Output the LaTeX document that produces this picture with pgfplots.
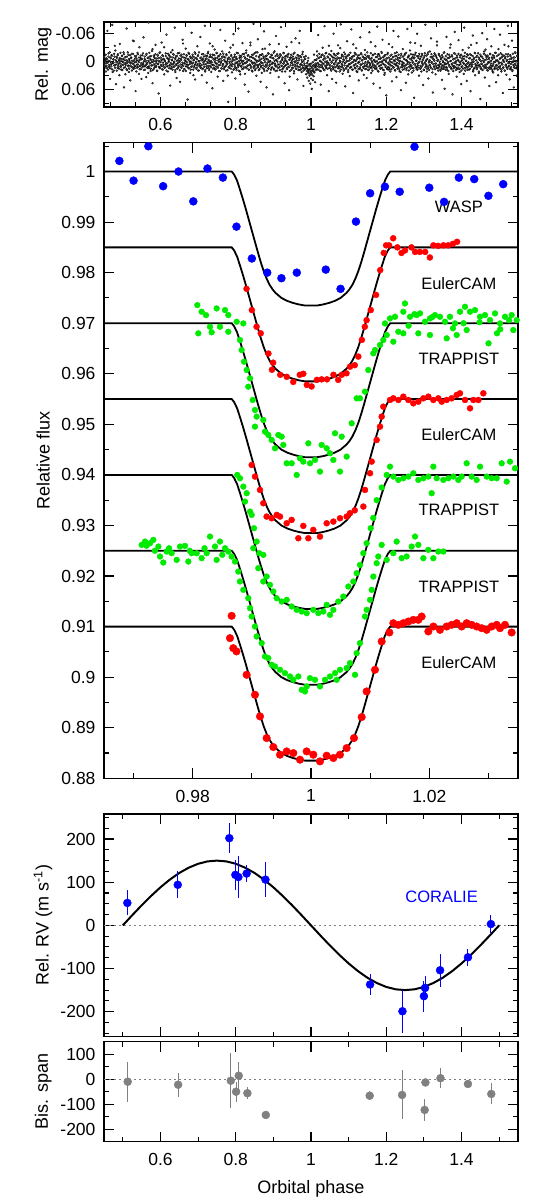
\documentclass[border=0pt]{standalone}
\usepackage{fontspec}
\setmainfont{Liberation Sans}
\usepackage{pgfplots}
\usepackage{pgfplotstable}
\pgfplotsset{compat=1.18}

\definecolor{wblue}{RGB}{0,0,255}
\definecolor{ered}{RGB}{255,0,0}
\definecolor{tgreen}{RGB}{0,235,0}
\definecolor{dgray}{RGB}{128,128,128}
\definecolor{lgray}{RGB}{140,140,140}

% model transit shape: phase, depth
\pgfplotstableread{
x d
0.9650 0
0.9866 0
0.9870 0.0006
0.9875 0.0018
0.9880 0.0036
0.9885 0.0055
0.9890 0.0075
0.9895 0.0096
0.9900 0.0117
0.9905 0.0138
0.9910 0.0159
0.9915 0.0179
0.9920 0.0197
0.9925 0.0212
0.9930 0.0224
0.9935 0.0233
0.9940 0.0240
0.9950 0.0250
0.9960 0.0256
0.9970 0.0260
0.9980 0.0263
0.9990 0.0265
1.0000 0.0265
1.0010 0.0265
1.0020 0.0263
1.0030 0.0260
1.0040 0.0256
1.0050 0.0250
1.0060 0.0240
1.0065 0.0233
1.0070 0.0224
1.0075 0.0212
1.0080 0.0197
1.0085 0.0179
1.0090 0.0159
1.0095 0.0138
1.0100 0.0117
1.0105 0.0096
1.0110 0.0075
1.0115 0.0055
1.0120 0.0036
1.0125 0.0018
1.0130 0.0006
1.0134 0
1.0350 0
}\shape

% WASP photometry, phase and mag in units of 1/1000
\pgfplotstableread{
p m
450 4
451 -12
452 9
454 -3
455 21
456 -7
458 14
459 -66
460 2
462 -18
463 11
464 -1
466 37
467 -9
468 6
470 -14
471 16
472 -79
474 3
475 -5
476 19
478 -11
479 8
480 -24
482 48
483 1
484 -8
486 13
487 -16
488 5
490 -2
491 29
492 -38
494 10
495 -6
496 17
498 -13
499 0
500 7
502 -20
503 55
504 -4
506 12
507 -10
508 3
510 -71
511 18
512 -1
514 8
515 -15
516 22
518 -6
519 2
520 40
522 -9
523 11
524 -17
526 4
527 -45
528 15
530 -3
531 9
532 -12
534 63
535 1
536 -7
538 13
539 -19
540 6
542 -2
543 26
544 -31
546 10
547 -8
548 16
550 -5
551 7
552 -14
554 3
555 -52
556 18
558 -6
559 10
560 -1
562 33
563 -17
564 5
566 12
567 -9
568 -84
570 14
571 2
572 -11
574 20
575 -4
576 8
578 -23
579 46
580 0
582 -13
583 15
584 6
586 -7
587 -36
588 11
590 -2
591 19
592 -15
594 4
595 68
596 -8
598 13
599 -20
600 1
602 9
603 -41
604 -5
606 17
607 -12
608 7
610 27
611 -3
612 12
614 -18
615 3
616 -58
618 10
619 -7
620 21
622 -1
623 -14
624 8
626 51
627 -10
628 15
630 -4
631 6
632 -25
634 -16
635 11
636 2
638 -73
639 18
640 -8
642 5
643 35
644 -12
646 14
647 -3
648 9
650 -19
651 0
652 43
654 -6
655 12
656 -15
658 7
659 -47
660 20
662 -9
663 3
664 16
666 -2
667 -28
668 10
670 -13
671 6
672 81
674 -5
675 14
676 -17
678 1
679 24
680 -8
682 11
683 -62
684 4
686 -11
687 17
688 -3
690 9
691 -20
692 38
694 2
695 -7
696 13
698 -33
699 5
700 -14
702 19
703 -1
704 8
706 -53
707 12
708 -9
710 29
711 -4
712 15
714 -16
715 0
716 6
718 -77
719 18
720 -6
722 10
723 45
724 -12
726 3
727 -21
728 14
730 -2
731 -39
732 9
734 -10
735 22
736 1
738 57
739 -15
740 7
742 -5
743 13
744 -26
746 -8
747 16
748 4
750 -18
751 11
752 32
754 -3
755 8
756 -13
758 20
759 -68
760 2
762 -7
763 15
764 -22
766 6
767 41
768 -11
770 12
771 -1
772 -45
774 9
775 -16
776 3
778 18
779 -6
780 86
782 -9
783 13
784 0
786 -30
787 7
788 -14
790 23
791 5
792 -3
794 -59
795 16
796 -10
798 10
799 36
800 -5
802 14
803 -19
804 1
806 8
807 -71
808 19
810 -8
811 4
812 27
814 -12
815 11
816 -2
818 -40
819 6
820 15
822 -17
823 3
824 49
826 -7
827 12
828 -24
830 0
831 9
832 -13
834 64
835 17
836 -4
838 7
839 -35
840 13
842 -10
843 2
844 21
846 -15
847 -81
848 10
850 -6
851 18
852 5
854 -20
855 30
856 -2
858 12
859 -48
860 7
862 -11
863 16
864 -4
866 43
867 9
868 -15
870 3
871 -27
872 14
874 -8
875 -65
876 20
878 1
879 -12
880 11
882 55
883 -5
884 8
886 -18
887 15
888 -1
890 -37
891 6
892 24
894 -9
895 13
896 -14
898 2
899 70
900 -7
902 17
903 -22
904 4
906 10
907 -55
908 -3
910 19
911 -13
912 6
914 33
915 -8
916 12
918 -16
919 0
920 -74
922 9
923 21
924 -6
926 14
927 -19
928 3
930 46
931 -11
932 8
934 -2
935 -32
936 16
938 5
939 -15
940 11
942 61
943 -4
944 20
946 -9
947 2
948 -42
950 13
951 -6
952 7
954 -17
955 25
956 0
958 10
959 -50
960 15
962 -8
963 4
964 38
966 -13
967 12
968 -3
970 -66
971 18
972 6
974 -10
975 22
976 1
978 -21
979 14
980 52
982 8
983 -5
984 16
986 -12
987 27
988 11
989 20
990 34
991 9
992 24
993 -8
994 41
995 17
996 30
997 5
998 47
999 22
1000 36
1001 14
1002 58
1003 28
1004 19
1005 39
1006 8
1007 31
1008 -15
1009 23
1010 12
1011 44
1012 6
1013 18
1014 -4
1015 15
1016 -22
1018 3
1019 -57
1020 10
1022 -9
1023 19
1024 -1
1026 49
1027 7
1028 -14
1030 12
1031 -30
1032 4
1034 17
1035 -7
1036 -76
1038 9
1039 -18
1040 14
1042 2
1043 29
1044 -11
1046 5
1047 63
1048 -16
1050 8
1051 -3
1052 15
1054 -23
1055 1
1056 37
1058 -9
1059 12
1060 -60
1062 6
1063 -14
1064 19
1066 -2
1067 45
1068 10
1070 -17
1071 4
1072 -35
1074 14
1075 -7
1076 21
1078 0
1079 -80
1080 11
1082 -12
1083 7
1084 26
1086 -5
1087 16
1088 -20
1090 3
1091 53
1092 -10
1094 13
1095 -1
1096 -44
1098 9
1099 18
1100 -15
1102 5
1103 31
1104 -8
1106 12
1107 -69
1108 2
1110 -11
1111 17
1112 67
1114 -4
1115 8
1116 -19
1118 14
1119 -2
1120 -29
1122 10
1123 22
1124 -13
1126 1
1127 40
1128 -7
1130 15
1131 -52
1132 6
1134 -16
1135 19
1136 -3
1138 84
1139 11
1140 -9
1142 4
1143 -25
1144 16
1146 -6
1147 9
1148 35
1150 -12
1151 2
1152 18
1154 -8
1155 -63
1156 12
1158 5
1159 -18
1160 24
1162 -1
1163 10
1164 -14
1166 47
1167 7
1168 -4
1170 15
1171 -33
1172 0
1174 13
1175 -10
1176 -75
1178 20
1179 3
1180 -16
1182 9
1183 56
1184 -6
1186 14
1187 -21
1188 1
1190 -47
1191 17
1192 -9
1194 6
1195 28
1196 -13
1198 11
1199 -2
1200 72
1202 -7
1203 16
1204 -19
1206 4
1207 -38
1208 13
1210 -5
1211 21
1212 8
1214 -15
1215 42
1216 2
1218 -10
1219 -66
1220 12
1222 -1
1223 18
1224 -12
1226 5
1227 33
1228 -20
1230 9
1231 -4
1232 -54
1234 15
1235 0
1236 -8
1238 22
1239 61
1240 -14
1242 7
1243 11
1244 -27
1246 3
1247 -6
1248 16
1250 -17
1251 8
1252 45
1254 -3
1255 13
1256 -70
1258 1
1259 -11
1260 19
1262 6
1263 -24
1264 -41
1266 10
1267 -7
1268 23
1270 2
1271 -15
1272 14
1274 77
1275 -9
1276 5
1278 -19
1279 12
1280 -2
1282 -60
1283 17
1284 8
1286 -12
1287 30
1288 0
1290 -6
1291 15
1292 -34
1294 11
1295 -17
1296 4
1298 50
1299 -8
1300 18
1302 -13
1303 3
1304 -79
1306 9
1307 -4
1308 21
1310 -16
1311 14
1312 36
1314 -1
1315 7
1316 -22
1318 12
1319 -50
1320 2
1322 -10
1323 16
1324 66
1326 -5
1327 10
1328 -18
1330 4
1331 27
1332 -12
1334 13
1335 -43
1336 -2
1338 19
1339 8
1340 -14
1342 -84
1343 5
1344 17
1346 -7
1347 11
1348 39
1350 -10
1351 1
1352 15
1354 -20
1355 58
1356 6
1358 -4
1359 12
1360 -53
1362 18
1363 -8
1364 3
1366 26
1367 -15
1368 10
1370 -1
1371 -37
1372 14
1374 5
1375 -11
1376 70
1378 20
1379 -6
1380 9
1382 -64
1383 -17
1384 2
1386 13
1387 32
1388 -9
1390 16
1391 -3
1392 -46
1394 7
1395 22
1396 -13
1398 0
1399 48
1400 11
1402 -7
1403 -25
1404 15
1406 4
1407 -73
1408 -12
1410 19
1411 8
1412 -2
1414 41
1415 -16
1416 12
1418 3
1419 -30
1420 17
1422 -8
1423 6
1424 63
1426 -14
1427 10
1428 1
1430 -56
1431 21
1432 -5
1434 14
1435 -19
1436 29
1438 7
1439 -10
1440 -40
1442 13
1443 2
1444 -18
1446 24
1447 9
1448 -4
1450 80
1451 15
1452 -11
1454 5
1455 -61
1456 18
1458 -2
1459 10
1460 -22
1462 34
1463 7
1464 -14
1466 13
1467 -5
1468 -48
1470 19
1471 1
1472 -9
1474 52
1475 12
1476 -17
1478 4
1479 -33
1480 16
1482 -6
1483 9
1484 23
1486 -12
1487 -70
1488 14
1490 0
1491 -19
1492 44
1494 8
1495 -3
1496 17
1498 -27
1499 11
1500 2
1502 -58
1503 15
1504 -8
1506 21
1507 5
1508 -15
1510 67
1511 12
1512 -1
1514 -36
1515 19
1516 -10
1518 6
1519 28
1520 -4
1522 13
1523 -77
1524 -16
1526 9
1527 3
1528 38
1530 -12
1531 16
1532 -6
1534 -45
1535 20
1536 1
1538 -9
1539 55
1540 11
1542 -20
1543 7
1544 -2
1546 30
1547 14
1548 -13
1550 4
}\wasplc

% WASP photometry, second camera
\pgfplotstableread{
p m
450.6 -8
451.3 5
452.9 -1
453.4 12
454.8 -15
456.1 3
456.7 9
458.2 -6
459.5 1
460.3 17
461.8 -11
462.4 -2
463.9 7
465.2 -20
465.8 14
467.5 0
468.1 -7
469.6 10
470.9 4
471.5 -13
473.0 22
474.4 -5
475.1 2
476.7 -17
477.3 8
478.8 -34
479.6 13
481.2 -3
481.9 6
483.5 -10
484.0 19
485.7 1
486.3 -14
487.9 9
489.1 -4
489.8 15
491.4 -8
492.0 3
493.6 -19
494.5 11
495.2 -1
496.8 6
497.6 -12
498.9 18
500.3 -6
500.9 0
502.5 13
503.1 -16
504.7 4
505.4 -9
506.9 27
507.7 7
509.0 -3
510.2 16
511.0 -11
512.6 2
513.3 -20
514.9 10
515.5 -5
517.1 15
517.8 -1
519.4 -14
520.1 8
521.7 3
522.5 -8
524.0 19
524.8 -2
526.3 12
527.1 -17
528.6 5
529.2 -44
530.8 0
531.5 14
533.1 -7
534.0 9
535.4 -12
536.2 21
537.7 -3
538.3 6
539.9 -16
540.6 11
542.2 1
543.0 -9
544.5 16
545.1 -4
546.7 8
547.5 -13
549.0 3
549.6 37
551.2 -6
552.0 12
553.5 -18
554.3 5
555.8 -1
556.6 9
558.1 -11
558.9 17
560.4 -3
561.2 7
562.7 -15
563.5 2
565.0 13
565.8 -8
567.3 24
568.1 -2
569.7 10
570.4 -19
572.0 4
572.6 -6
574.2 15
575.0 -12
576.5 1
577.3 8
578.8 -27
579.6 18
581.1 -4
581.9 6
583.4 -10
584.2 12
585.8 -1
586.5 -16
588.1 9
588.8 3
590.4 -7
591.2 20
592.7 -13
593.5 5
595.0 -2
595.8 11
597.3 -19
598.1 14
599.6 0
600.4 -9
602.0 7
602.7 -4
604.3 16
605.1 -14
606.6 2
607.4 10
608.9 -6
609.7 -31
611.2 13
612.0 -1
613.5 6
614.3 -12
615.9 19
616.6 4
618.2 -8
619.0 9
620.5 -17
621.3 1
622.8 14
623.6 -5
625.1 -11
625.9 8
627.5 3
628.2 -20
629.8 12
630.6 -3
632.1 17
632.9 -9
634.4 5
635.2 -15
636.7 0
637.5 10
639.0 -6
639.8 22
641.3 -12
642.1 7
643.7 -2
644.4 15
646.0 -18
646.8 3
648.3 11
649.1 -7
650.6 -1
651.4 18
652.9 -13
653.7 6
655.2 -4
656.0 13
657.6 -10
658.3 2
659.9 -39
660.7 9
662.2 -16
663.0 16
664.5 -3
665.3 4
666.8 -8
667.6 20
669.1 -14
669.9 1
671.5 11
672.2 -6
673.8 7
674.6 -19
676.1 14
676.9 -2
678.4 5
679.2 -11
680.7 17
681.5 0
683.1 -7
683.8 10
685.4 -15
686.2 3
687.7 29
688.5 -4
690.0 12
690.8 -9
692.3 6
693.1 -17
694.6 1
695.4 15
697.0 -5
697.7 8
699.3 -12
700.1 19
701.6 -1
702.4 -20
703.9 10
704.7 4
706.2 -8
707.0 13
708.5 -3
709.3 7
710.9 -16
711.6 16
713.2 -6
714.0 2
715.5 -11
716.3 11
717.8 -2
718.6 21
720.1 -13
720.9 5
722.5 -7
723.2 14
724.8 0
725.6 -18
727.1 9
727.9 -4
729.4 18
730.2 -10
731.7 3
732.5 -15
734.0 12
734.8 -1
736.4 6
737.1 -9
738.7 -33
739.5 15
741.0 -5
741.8 8
743.3 -14
744.1 1
745.6 17
746.4 -3
747.9 10
748.7 -19
750.3 4
751.0 -8
752.6 13
753.4 -12
754.9 0
755.7 20
757.2 -6
758.0 7
759.5 -16
760.3 2
761.8 14
762.6 -2
764.1 -11
764.9 9
766.5 5
767.2 -17
768.8 16
769.6 -4
771.1 11
771.9 -9
773.4 1
774.2 19
775.7 -14
776.5 6
778.0 -1
778.8 30
780.4 -7
781.1 12
782.7 -20
783.5 3
785.0 8
785.8 -5
787.3 15
788.1 -12
789.6 0
790.4 10
791.9 -8
792.7 -36
794.3 17
795.0 -3
796.6 6
797.4 -15
798.9 13
799.7 2
801.2 -10
802.0 18
803.5 -6
804.3 4
805.8 -18
806.6 11
808.2 -1
808.9 7
810.5 -13
811.3 21
812.8 -4
813.6 9
815.1 -9
815.9 1
817.4 16
818.2 -16
819.7 5
820.5 -2
822.1 12
822.8 -11
824.4 26
825.2 -7
826.7 3
827.5 -19
829.0 14
829.8 0
831.3 -5
832.1 8
833.6 -14
834.4 17
836.0 -3
836.7 6
838.3 -10
839.1 -41
840.6 10
841.4 -1
842.9 19
843.7 -15
845.2 4
846.0 -8
847.5 13
848.3 2
849.9 -18
850.6 9
852.2 -4
853.0 15
854.5 -12
855.3 1
856.8 7
857.6 -20
859.1 11
859.9 -2
861.4 18
862.2 -9
863.8 5
864.5 -14
866.1 0
866.9 12
868.4 -6
869.2 24
870.7 -16
871.5 3
873.0 8
873.8 -11
875.3 16
876.1 -3
877.7 -28
878.4 10
880.0 -7
880.8 6
882.3 -13
883.1 19
884.6 2
885.4 -5
886.9 14
887.7 -17
889.2 1
890.0 9
891.6 -10
892.3 -1
893.9 17
894.7 -15
896.2 5
897.0 12
898.5 -8
899.3 3
900.8 -19
901.6 15
903.1 -2
903.9 7
905.5 -12
906.2 20
907.8 -4
908.6 10
910.1 -16
910.9 0
912.4 13
913.2 -7
914.7 -38
915.5 6
917.0 -11
917.8 18
919.4 2
920.1 -14
921.7 9
922.5 -3
924.0 16
924.8 -9
926.3 4
927.1 -18
928.6 11
929.4 -1
931.0 21
931.7 -6
933.3 7
934.1 -13
935.6 14
936.4 1
937.9 -10
938.7 5
940.2 -17
941.0 12
942.5 -4
943.3 32
944.9 -8
945.6 8
947.2 -15
948.0 17
949.5 -2
950.3 3
951.8 -11
952.6 13
954.1 -6
954.9 20
956.4 -19
957.2 6
958.8 0
959.5 -9
961.1 15
961.9 -3
963.4 9
964.2 -14
965.7 2
966.5 18
968.0 -7
968.8 -40
970.3 11
971.1 -12
972.7 5
973.4 16
975.0 -4
975.8 7
977.3 -16
978.1 12
979.6 -1
980.4 19
981.9 -10
982.7 4
984.2 14
985.0 -6
986.6 12
987.3 9
988.9 14
989.7 3
991.2 18
992.0 -2
993.5 22
994.3 6
995.8 15
996.6 27
998.1 9
998.9 19
1000.4 4
1001.2 25
1002.7 11
1003.5 20
1005.0 1
1005.8 16
1007.4 8
1008.1 21
1009.7 -3
1010.5 10
1012.0 4
1012.8 7
1014.3 -5
1015.1 10
1016.6 -13
1017.4 3
1018.9 17
1019.7 -8
1021.3 6
1022.0 -17
1023.6 12
1024.4 -2
1025.9 20
1026.7 -10
1028.2 1
1029.0 9
1030.5 -15
1031.3 14
1032.8 -4
1033.6 5
1035.2 -12
1035.9 18
1037.5 0
1038.3 -7
1039.8 11
1040.6 -19
1042.1 7
1042.9 -1
1044.4 15
1045.2 -9
1046.7 3
1047.5 -34
1049.1 13
1049.8 -6
1051.4 8
1052.2 -14
1053.7 19
1054.5 2
1056.0 -11
1056.8 10
1058.3 -3
1059.1 16
1060.6 -17
1061.4 4
1063.0 -7
1063.7 12
1065.3 1
1066.1 -13
1067.6 21
1068.4 -5
1069.9 7
1070.7 -9
1072.2 14
1073.0 -18
1074.5 3
1075.3 10
1076.9 -2
1077.6 -29
1079.2 17
1080.0 -8
1081.5 5
1082.3 -15
1083.8 12
1084.6 0
1086.1 -11
1086.9 19
1088.4 -4
1089.2 8
1090.8 -16
1091.5 2
1093.1 15
1093.9 -7
1095.4 9
1096.2 -12
1097.7 -1
1098.5 22
1100.0 -14
1100.8 6
1102.3 -3
1103.1 13
1104.7 -19
1105.4 4
1107.0 11
1107.8 -6
1109.3 17
1110.1 -10
1111.6 1
1112.4 -37
1113.9 8
1114.7 -13
1116.2 14
1117.0 -2
1118.6 5
1119.3 -16
1120.9 20
1121.7 -5
1123.2 10
1124.0 -9
1125.5 3
1126.3 16
1127.8 -14
1128.6 0
1130.1 12
1130.9 -7
1132.5 7
1133.2 -18
1134.8 18
1135.6 -3
1137.1 4
1137.9 -11
1139.4 13
1140.2 28
1141.7 -6
1142.5 9
1144.0 -15
1144.8 1
1146.4 15
1147.1 -9
1148.7 6
1149.5 -20
1151.0 11
1151.8 -1
1153.3 17
1154.1 -12
1155.6 3
1156.4 8
1157.9 -5
1158.7 -42
1160.3 14
1161.0 -8
1162.6 2
1163.4 19
1164.9 -14
1165.7 6
1167.2 -3
1168.0 12
1169.5 -17
1170.3 0
1171.8 9
1172.6 -10
1174.2 16
1174.9 -1
1176.5 5
1177.3 -15
1178.8 21
1179.6 -6
1181.1 10
1181.9 -12
1183.4 1
1184.2 15
1185.7 -8
1186.5 7
1188.1 -19
1188.8 13
1190.4 -2
1191.2 4
1192.7 -11
1193.5 18
1195.0 -4
1195.8 24
1197.3 -14
1198.1 8
1199.6 0
1200.4 -7
1202.0 14
1202.7 -16
1204.3 3
1205.1 11
1206.6 -9
1207.4 17
1208.9 -1
1209.7 6
1211.2 -13
1212.0 1
1213.5 16
1214.3 -6
1215.9 -31
1216.6 10
1218.2 -10
1219.0 13
1220.5 -3
1221.3 5
1222.8 -18
1223.6 19
1225.1 -5
1225.9 8
1227.4 -12
1228.2 2
1229.8 15
1230.5 -8
1232.1 11
1232.9 -15
1234.4 4
1235.2 20
1236.7 -2
1237.5 -9
1239.0 12
1239.8 -17
1241.3 6
1242.1 0
1243.7 17
1244.4 -11
1246.0 3
1246.8 9
1248.3 -14
1249.1 14
1250.6 -4
1251.4 7
1252.9 -19
1253.7 18
1255.2 -1
1256.0 5
1257.6 -9
1258.3 27
1259.9 -13
1260.7 11
1262.2 2
1263.0 -6
1264.5 15
1265.3 -16
1266.8 8
1267.6 -3
1269.1 13
1269.9 -10
1271.5 1
1272.2 19
1273.8 -7
1274.6 6
1276.1 -15
1276.9 -40
1278.4 10
1279.2 -2
1280.7 16
1281.5 -12
1283.0 4
1283.8 12
1285.4 -8
1286.1 2
1287.7 -17
1288.5 14
1290.0 -5
1290.8 9
1292.3 -11
1293.1 21
1294.6 0
1295.4 -14
1296.9 7
1297.7 -4
1299.3 17
1300.0 -9
1301.6 3
1302.4 -18
1303.9 12
1304.7 -1
1306.2 6
1307.0 -13
1308.5 15
1309.3 -6
1310.8 10
1311.6 -20
1313.2 2
1313.9 18
1315.5 -3
1316.3 8
1317.8 -10
1318.6 13
1320.1 -16
1320.9 1
1322.4 23
1323.2 -7
1324.7 5
1325.5 -12
1327.1 11
1327.8 -2
1329.4 16
1330.2 -15
1331.7 4
1332.5 9
1334.0 -8
1334.8 -35
1336.3 14
1337.1 -4
1338.6 7
1339.4 -17
1341.0 12
1341.7 0
1343.3 -11
1344.1 19
1345.6 -5
1346.4 6
1347.9 -14
1348.7 15
1350.2 -1
1351.0 8
1352.5 -19
1353.3 11
1354.9 -6
1355.6 3
1357.2 17
1358.0 -12
1359.5 5
1360.3 -3
1361.8 13
1362.6 -16
1364.1 1
1364.9 20
1366.4 -8
1367.2 7
1368.8 -10
1369.5 -30
1371.1 12
1371.9 -2
1373.4 16
1374.2 -14
1375.7 4
1376.5 9
1378.0 -5
1378.8 14
1380.3 -18
1381.1 2
1382.7 11
1383.4 -7
1385.0 18
1385.8 -1
1387.3 6
1388.1 -13
1389.6 13
1390.4 -4
1391.9 -17
1392.7 8
1394.2 0
1395.0 15
1396.6 -9
1397.3 5
1398.9 -15
1399.7 19
1401.2 -3
1402.0 10
1403.5 -11
1404.3 2
1405.8 26
1406.6 -6
1408.1 14
1408.9 -19
1410.5 7
1411.2 -2
1412.8 12
1413.6 -10
1415.1 4
1415.9 17
1417.4 -14
1418.2 1
1419.7 9
1420.5 -7
1422.0 15
1422.8 -16
1424.4 3
1425.1 -36
1426.7 11
1427.5 -4
1429.0 6
1429.8 -12
1431.3 18
1432.1 0
1433.6 -8
1434.4 13
1435.9 -18
1436.7 5
1438.3 10
1439.0 -3
1440.6 16
1441.4 -13
1442.9 2
1443.7 8
1445.2 -9
1446.0 21
1447.5 -5
1448.3 7
1449.8 -15
1450.6 12
1452.2 -1
1452.9 4
1454.5 -11
1455.3 17
1456.8 -7
1457.6 9
1459.1 -17
1459.9 1
1461.4 14
1462.2 -4
1463.7 -26
1464.5 11
1466.1 -10
1466.8 6
1468.4 18
1469.2 -13
1470.7 3
1471.5 13
1473.0 -6
1473.8 0
1475.3 15
1476.1 -16
1477.6 8
1478.4 -2
1480.0 11
1480.7 -9
1482.3 20
1483.1 -14
1484.6 5
1485.4 1
1486.9 -8
1487.7 16
1489.2 -19
1490.0 10
1491.5 -3
1492.3 7
1493.9 -12
1494.6 14
1496.2 -1
1497.0 29
1498.5 -15
1499.3 4
1500.8 12
1501.6 -6
1503.1 9
1503.9 -18
1505.4 2
1506.2 17
1507.7 -10
1508.5 6
1510.1 -4
1510.8 13
1512.4 -13
1513.2 0
1514.7 19
1515.5 -7
1517.0 8
1517.8 -16
1519.3 11
1520.1 -2
1521.6 15
1522.4 -11
1524.0 3
1524.7 -33
1526.3 10
1527.1 -5
1528.6 16
1529.4 -14
1530.9 5
1531.7 12
1533.2 -8
1534.0 1
1535.5 18
1536.3 -17
1537.9 7
1538.6 -3
1540.2 13
1541.0 -9
1542.5 4
1543.3 -19
1544.8 14
1545.6 -1
1547.1 9
1547.9 -12
1549.4 2
}\wasplcb

\pgfplotsset{
  panel/.style={
    scale only axis, width=414pt, anchor=north west,
    tick align=inside,
    major tick length=10pt, minor tick length=5pt,
    tick style={black, line width=1.1pt},
    axis line style={line width=1.5pt},
    tick label style={font=\fontsize{17.5}{20}\selectfont},
    label style={font=\fontsize{18}{21}\selectfont},
    /pgf/number format/assume math mode=true,
    xticklabel style={yshift=-8pt},
    yticklabel style={xshift=-5pt},
    every axis y label/.style={at={(axis description cs:-0.147,0.5)}, rotate=90,
      anchor=center, font=\fontsize{18}{21}\selectfont},
  },
  model/.style={black, line width=1.8pt, no markers},
  dots/.style={only marks, mark=*, mark size=#1},
}

\begin{document}
\begin{tikzpicture}
\useasboundingbox (0,0) rectangle (545pt,-1200pt);

% WASP light curve over the full orbit
\begin{axis}[panel, at={(104pt,-22pt)}, height=85pt,
  xmin=0.45, xmax=1.55, ymin=-0.085, ymax=0.097, y dir=reverse,
  xtick={0.6,0.8,1,1.2,1.4},
  minor xtick={0.467,0.533,0.667,0.733,0.867,0.933,1.067,1.133,1.267,1.333,1.467,1.533},
  ytick={-0.06,0,0.06}, minor ytick={-0.03,0.03,0.09},
  scaled y ticks=false,
  yticklabel style={/pgf/number format/.cd, fixed, precision=2},
  ylabel={Rel. mag}]
\addplot[only marks, mark=*, mark size=0.95pt, mark options={draw=none, fill=lgray}]
  table[x expr=\thisrow{p}/1000, y expr=\thisrow{m}/1000] {\wasplc};
\addplot[only marks, mark=*, mark size=0.95pt, mark options={draw=none, fill=lgray}]
  table[x expr=\thisrow{p}/1000, y expr=\thisrow{m}/1000] {\wasplcb};
\end{axis}

% transit light curves
\begin{axis}[panel, at={(104pt,-142.7pt)}, height=635.6pt,
  xmin=0.965, xmax=1.035, ymin=0.88, ymax=1.0057,
  xtick={0.98,1,1.02}, minor xtick={0.97,0.99,1.01,1.03},
  ytick={0.88,0.89,0.9,0.91,0.92,0.93,0.94,0.95,0.96,0.97,0.98,0.99,1},
  minor ytick={0.885,0.895,0.905,0.915,0.925,0.935,0.945,0.955,0.965,0.975,0.985,0.995,1.005},
  ylabel={Relative flux}]

% WASP
\addplot[dots=4pt, wblue] coordinates {
(0.9676,1.0021) (0.9700,0.9982) (0.9725,1.0050) (0.9750,0.9971) (0.9776,1.0000)
(0.9801,0.9941) (0.9825,1.0006) (0.9851,0.9988) (0.9874,0.9891) (0.9900,0.9828)
(0.9926,0.9800) (0.9950,0.9789) (0.9976,0.9800) (1.0025,0.9806) (1.0050,0.9768)
(1.0076,0.9901) (1.0100,0.9957) (1.0125,0.9970) (1.0150,0.9960) (1.0175,1.0049)
(1.0200,0.9968) (1.0225,0.9940) (1.0250,0.9988) (1.0276,0.9985) (1.0300,0.9952)
(1.0325,0.9975)
};

% EulerCAM, offset 0.985
\addplot[dots=3pt, ered] coordinates {
(0.9891,0.9768) (0.9900,0.9726) (0.9908,0.9693) (0.9915,0.9680) (0.9928,0.9640)
(0.9936,0.9622) (0.9934,0.9608) (0.9948,0.9598) (0.9959,0.9594) (0.9970,0.9584)
(0.9981,0.9598) (0.9987,0.9600) (0.9993,0.9578) (1.0001,0.9575) (1.0010,0.9588)
(1.0018,0.9589) (1.0027,0.9589) (1.0038,0.9598) (1.0046,0.9588) (1.0052,0.9598)
(1.0060,0.9601) (1.0066,0.9614) (1.0074,0.9617) (1.0080,0.9634) (1.0086,0.9667)
(1.0091,0.9693) (1.0094,0.9706) (1.0101,0.9726) (1.0110,0.9756) (1.0117,0.9805)
(1.0123,0.9839) (1.0127,0.9854) (1.0132,0.9854) (1.0139,0.9868) (1.0146,0.9850)
(1.0153,0.9839) (1.0159,0.9844) (1.0170,0.9850) (1.0176,0.9841) (1.0184,0.9841)
(1.0193,0.9841) (1.0201,0.9830) (1.0207,0.9854) (1.0215,0.9853) (1.0224,0.9854)
(1.0232,0.9854) (1.0240,0.9857) (1.0247,0.9861)
};

% TRAPPIST, offset 0.970
\addplot[dots=2.9pt, tgreen] coordinates {
(0.98078,0.97358) (0.98151,0.97227) (0.98225,0.97160) (0.98405,0.97292) (0.98546,0.97260)
(0.98602,0.97161) (0.98743,0.97029) (0.98856,0.96996) (0.98292,0.96930) (0.98461,0.96930)
(0.98095,0.96800) (0.98320,0.96820) (0.98602,0.96832) (0.98799,0.96668) (0.98827,0.96470)
(0.98867,0.96240) (0.98912,0.96075) (0.98969,0.95910) (0.98940,0.95745) (0.99014,0.95482)
(0.99053,0.95284) (0.99081,0.95153) (0.99053,0.94955) (0.99194,0.95087) (0.99222,0.94856)
(0.99279,0.94790) (0.99335,0.94691) (0.99391,0.94527) (0.99448,0.94790) (0.99504,0.94757)
(0.99532,0.94593) (0.99589,0.94230) (0.99673,0.94230) (0.99758,0.93999) (0.99814,0.94329)
(0.99870,0.94263) (0.99955,0.94625) (0.99983,0.94230) (1.00068,0.94296) (1.00152,0.94066)
(1.00180,0.94593) (1.00265,0.94527) (1.00321,0.94428) (1.00378,0.94296) (1.00406,0.94823)
(1.00490,0.94066) (1.00519,0.94757) (1.00603,0.94362) (1.00688,0.95021) (1.00772,0.95515)
(1.00828,0.95515) (1.00913,0.95647) (1.00969,0.96075) (1.01054,0.96404) (1.01082,0.96470)
(1.01167,0.96569) (1.01223,0.96668) (1.01280,0.96767) (1.01251,0.96996) (1.01336,0.97095)
(1.01392,0.96635) (1.01420,0.97128) (1.01477,0.96832) (1.01561,0.97227) (1.01589,0.97391)
(1.01561,0.96800) (1.01674,0.97128) (1.01787,0.97161) (1.01815,0.96800) (1.01843,0.97194)
(1.01928,0.97029) (1.02012,0.97095) (1.02012,0.96767) (1.02097,0.97161) (1.02181,0.97128)
(1.02266,0.97029) (1.02294,0.96701) (1.02350,0.97128) (1.02435,0.96996) (1.02463,0.96767)
(1.02519,0.97227) (1.02604,0.97325) (1.02632,0.96865) (1.02689,0.97227) (1.02773,0.97260)
(1.02858,0.97128) (1.02942,0.97161) (1.03002,0.96602) (1.03027,0.97062) (1.03111,0.97194)
(1.03145,0.96800) (1.03196,0.96996) (1.03280,0.97128) (1.03393,0.97161) (1.03421,0.96865)
(1.03478,0.97062) (1.01650,0.96950) (1.02050,0.97120) (1.02400,0.96900) (1.02850,0.97020)
(1.03200,0.96880) (1.03350,0.97060) (1.01750,0.97180) (1.02580,0.97000)
};

% EulerCAM, offset 0.955
\addplot[dots=3pt, ered] coordinates {
(0.98997,0.94197) (0.99053,0.93967) (0.99138,0.93703) (0.99194,0.93440) (0.99250,0.93176)
(0.99335,0.93143) (0.99476,0.93176) (0.99420,0.93209) (0.99589,0.93044) (0.99673,0.93110)
(0.99786,0.92748) (0.99870,0.92992) (0.99955,0.92748) (1.00039,0.92913) (1.00152,0.92781)
(1.00265,0.93044) (1.00378,0.93077) (1.00490,0.93143) (1.00603,0.93176) (1.00659,0.93242)
(1.00740,0.93300) (1.00885,0.93374) (1.00913,0.93703) (1.00998,0.94033) (1.01026,0.94263)
(1.01110,0.94691) (1.01167,0.94955) (1.01195,0.95153) (1.01223,0.95350) (1.01336,0.95482)
(1.01392,0.95515) (1.01477,0.95482) (1.01561,0.95548) (1.01646,0.95482) (1.01730,0.95416)
(1.01815,0.95449) (1.01900,0.95515) (1.01984,0.95548) (1.02069,0.95482) (1.02153,0.95515)
(1.02210,0.95449) (1.02294,0.95482) (1.02378,0.95515) (1.02463,0.95581) (1.02519,0.95614)
(1.02604,0.95482) (1.02689,0.95317) (1.02745,0.95482) (1.02830,0.95482) (1.02914,0.95614)
};

% TRAPPIST, offset 0.940
\addplot[dots=2.9pt, tgreen] coordinates {
(0.98754,0.94000) (0.98799,0.93934) (0.98856,0.93769) (0.98912,0.93638) (0.98884,0.93473)
(0.98969,0.93275) (0.98997,0.93209) (0.99036,0.92946) (0.99081,0.92682) (0.99025,0.92550)
(0.99109,0.92155) (0.99126,0.92452) (0.99194,0.92419) (0.99194,0.91892) (0.99250,0.91990)
(0.99306,0.91826) (0.99363,0.91694) (0.99419,0.91562) (0.99504,0.91496) (0.99589,0.91529)
(0.99673,0.91398) (0.99758,0.91332) (0.99842,0.91299) (0.99927,0.91266) (1.00039,0.91332)
(1.00124,0.91266) (1.00209,0.91299) (1.00265,0.91431) (1.00321,0.91233) (1.00378,0.91332)
(1.00462,0.91496) (1.00547,0.91595) (1.00631,0.91793) (1.00716,0.91892) (1.00772,0.92056)
(1.00828,0.92221) (1.00885,0.92452) (1.00941,0.92649) (1.01009,0.92946) (1.01054,0.93150)
(1.01110,0.93500) (1.01195,0.93750) (1.01280,0.94000) (1.01336,0.94164) (1.01392,0.93967)
(1.01477,0.93901) (1.01561,0.93934) (1.01646,0.93967) (1.01730,0.94033) (1.01815,0.93901)
(1.01900,0.93934) (1.01984,0.93967) (1.02069,0.94164) (1.02040,0.93638) (1.02125,0.93934)
(1.02238,0.93901) (1.02322,0.93934) (1.02407,0.93967) (1.02491,0.93901) (1.02548,0.93967)
(1.02632,0.94230) (1.02717,0.93967) (1.02801,0.93901) (1.02858,0.94164) (1.02971,0.93967)
(1.03055,0.93934) (1.03140,0.93934) (1.03224,0.94230) (1.03309,0.93868) (1.03365,0.94263)
(1.03450,0.94131)
};

% TRAPPIST, offset 0.925
\addplot[dots=2.9pt, tgreen] coordinates {
(0.97137,0.92616) (0.97193,0.92682) (0.97278,0.92649) (0.97334,0.92715) (0.97419,0.92583)
(0.97447,0.92386) (0.97503,0.92267) (0.97559,0.92485) (0.97644,0.92452) (0.97729,0.92320)
(0.97785,0.92583) (0.97869,0.92597) (0.97926,0.92287) (0.97982,0.92452) (0.98067,0.92452)
(0.98151,0.92353) (0.98236,0.92452) (0.98292,0.92781) (0.98377,0.92583) (0.98405,0.92320)
(0.98461,0.92682) (0.98546,0.92550) (0.98602,0.92485) (0.98658,0.92386) (0.98715,0.92287)
(0.97220,0.92600) (0.97360,0.92500) (0.97600,0.92550) (0.97950,0.92500) (0.98200,0.92550)
(0.98500,0.92420) (0.98771,0.92089) (0.98799,0.91892) (0.98856,0.91727) (0.98940,0.91562)
(0.98969,0.91365) (0.98997,0.91200) (0.99053,0.91002) (0.99081,0.90805) (0.99166,0.90673)
(0.99222,0.90409) (0.99279,0.90377) (0.99335,0.90245) (0.99391,0.90212) (0.99476,0.90146)
(0.99560,0.90080) (0.99645,0.90014) (0.99701,0.89948) (0.99786,0.90014) (0.99842,0.89751)
(0.99899,0.89718) (0.99927,0.89817) (0.99983,0.89981) (1.00068,0.89948) (1.00152,0.89817)
(1.00237,0.89948) (1.00321,0.90014) (1.00406,0.90080) (1.00434,0.89948) (1.00490,0.90146)
(1.00603,0.90179) (1.00659,0.90278) (1.00744,0.90047) (1.00772,0.90475) (1.00828,0.90673)
(1.00913,0.91200) (1.00941,0.91332) (1.00998,0.91529) (1.01026,0.91727) (1.01054,0.91990)
(1.01110,0.92254) (1.01138,0.92386) (1.01195,0.92616) (1.01280,0.92320) (1.01392,0.92452)
(1.01448,0.92682) (1.01533,0.92353) (1.01617,0.92386) (1.01702,0.92583) (1.01759,0.92781)
(1.01815,0.92616) (1.01900,0.92353) (1.01984,0.92518) (1.02069,0.92353) (1.02153,0.92485)
(1.02238,0.92485)
};

% EulerCAM, offset 0.910
\addplot[dots=3.8pt, ered] coordinates {
(0.98658,0.91213) (0.98630,0.90772) (0.98686,0.90574) (0.98740,0.90510) (0.98912,0.90047)
(0.99053,0.89652) (0.99138,0.89224) (0.99250,0.88796) (0.99363,0.88618) (0.99476,0.88467)
(0.99589,0.88532) (0.99701,0.88499) (0.99814,0.88368) (0.99927,0.88532) (1.00039,0.88467)
(1.00152,0.88335) (1.00265,0.88447) (1.00378,0.88401) (1.00490,0.88467) (1.00603,0.88598)
(1.00727,0.88796) (1.00857,0.89211) (1.00941,0.89718) (1.01082,0.90146) (1.01195,0.90706)
(1.01325,0.90884) (1.01392,0.91068) (1.01477,0.91035) (1.01561,0.91068) (1.01646,0.91101)
(1.01730,0.91134) (1.01815,0.91134) (1.01871,0.91200) (1.01984,0.90904) (1.02069,0.91002)
(1.02181,0.90936) (1.02294,0.91002) (1.02378,0.91035) (1.02463,0.91068) (1.02548,0.91002)
(1.02632,0.91068) (1.02717,0.91035) (1.02801,0.91002) (1.02886,0.90969) (1.02971,0.90936)
(1.03055,0.91002) (1.03140,0.91035) (1.03196,0.90969) (1.03280,0.91035) (1.03393,0.90884)
(1.03506,0.91002)
};

% transit models
\addplot[model] table[x=x, y expr=1-\thisrow{d}] {\shape};
\addplot[model] table[x=x, y expr=0.985-\thisrow{d}] {\shape};
\addplot[model] table[x=x, y expr=0.970-\thisrow{d}] {\shape};
\addplot[model] table[x=x, y expr=0.955-\thisrow{d}] {\shape};
\addplot[model] table[x=x, y expr=0.940-\thisrow{d}] {\shape};
\addplot[model] table[x=x, y expr=0.925-\thisrow{d}] {\shape};
\addplot[model] table[x=x, y expr=0.910-\thisrow{d}] {\shape};

\begin{scope}[font=\fontsize{16.5}{19}\selectfont]
\node at (axis cs:1.025,0.9930) {WASP};
\node at (axis cs:1.025,0.9779) {EulerCAM};
\node at (axis cs:1.025,0.9629) {TRAPPIST};
\node at (axis cs:1.025,0.9479) {EulerCAM};
\node at (axis cs:1.025,0.9331) {TRAPPIST};
\node at (axis cs:1.025,0.9178) {TRAPPIST};
\node at (axis cs:1.025,0.9028) {EulerCAM};
\end{scope}
\end{axis}

% radial velocities
\begin{axis}[panel, at={(104pt,-814pt)}, height=222.7pt,
  xmin=0.45, xmax=1.55, ymin=-258, ymax=258,
  xtick={0.6,0.8,1,1.2,1.4}, minor xtick={0.5,0.7,0.9,1.1,1.3,1.5}, xticklabels={},
  ytick={-200,-100,0,100,200},
  minor ytick={-250,-225,-175,-150,-125,-75,-50,-25,25,50,75,125,150,175,225,250},
  ylabel={Rel. RV (m s\textsuperscript{-1})}]
\addplot[dgray, line width=1pt, dash pattern=on 2pt off 3pt, no markers]
  coordinates {(0.45,0) (1.55,0)};
\addplot[model, line width=2pt] coordinates {
(0.500,0) (0.525,23.5) (0.550,46.4) (0.575,68.1) (0.600,88.2) (0.625,106.1)
(0.650,121.4) (0.675,133.6) (0.700,142.7) (0.725,148.2) (0.750,150.0)
(0.775,148.2) (0.800,142.7) (0.825,133.6) (0.850,121.4) (0.875,106.1)
(0.900,88.2) (0.925,68.1) (0.950,46.4) (0.975,23.5) (1.000,0)
(1.025,-23.5) (1.050,-46.4) (1.075,-68.1) (1.100,-88.2) (1.125,-106.1)
(1.150,-121.4) (1.175,-133.6) (1.200,-142.7) (1.225,-148.2) (1.250,-150.0)
(1.275,-148.2) (1.300,-142.7) (1.325,-133.6) (1.350,-121.4) (1.375,-106.1)
(1.400,-88.2) (1.425,-68.1) (1.450,-46.4) (1.475,-23.5) (1.500,0)
};
\addplot[dots=4pt, wblue, error bars/.cd, y dir=both, y explicit,
  error mark=none, error bar style={wblue, line width=1pt}] coordinates {
(0.512,52) +- (0,29)
(0.646,94) +- (0,31)
(0.783,202) +- (0,35)
(0.799,117) +- (0,34)
(0.807,112) +- (0,49)
(0.829,120) +- (0,19)
(0.879,106) +- (0,40)
(1.157,-137) +- (0,24)
(1.243,-199) +- (0,50)
(1.303,-145) +- (0,28)
(1.300,-164) +- (0,36)
(1.343,-104) +- (0,38)
(1.417,-74) +- (0,20)
(1.478,3) +- (0,21)
};
\node[wblue, font=\fontsize{16.5}{19}\selectfont] at (axis cs:1.347,65) {CORALIE};
\end{axis}

% bisector spans
\begin{axis}[panel, at={(104pt,-1041.7pt)}, height=100pt,
  xmin=0.45, xmax=1.55, ymin=-250, ymax=150,
  xtick={0.6,0.8,1,1.2,1.4}, minor xtick={0.5,0.7,0.9,1.1,1.3,1.5},
  ytick={-200,-100,0,100}, minor ytick={-150,-50,50},
  ylabel={Bis. span},
  xlabel={Orbital phase},
  xlabel style={at={(axis description cs:0.5,0)}, anchor=base, yshift=-52pt}]
\addplot[dgray, line width=1pt, dash pattern=on 2pt off 3pt, no markers]
  coordinates {(0.45,0) (1.55,0)};
\addplot[dots=4pt, dgray, error bars/.cd, y dir=both, y explicit,
  error mark=none, error bar style={dgray, line width=1pt}] coordinates {
(0.513,-10) +- (0,80)
(0.647,-22) +- (0,48)
(0.787,-6) +- (0,110)
(0.801,-50) +- (0,40)
(0.808,14) +- (0,54)
(0.831,-56) +- (0,23)
(0.880,-143) +- (0,8)
(1.156,-66) +- (0,17)
(1.242,-63) +- (0,98)
(1.304,-13) +- (0,10)
(1.302,-123) +- (0,43)
(1.344,4) +- (0,40)
(1.417,-19) +- (0,5)
(1.479,-59) +- (0,42)
};
\end{axis}
\end{tikzpicture}
\end{document}
